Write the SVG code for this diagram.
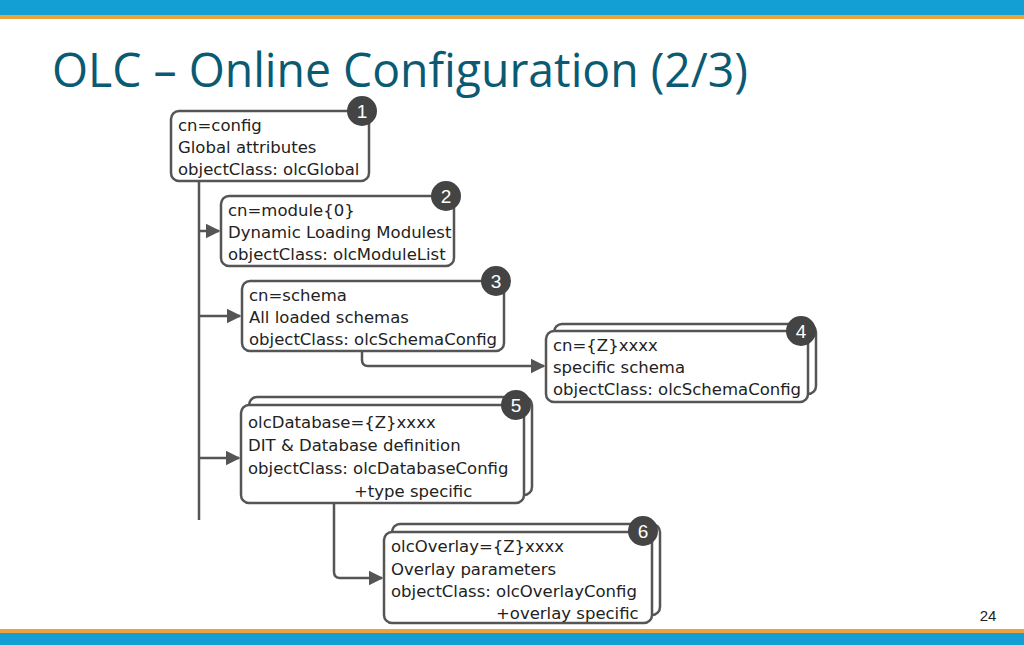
<svg xmlns="http://www.w3.org/2000/svg" width="1024" height="645" viewBox="0 0 1024 645">
<defs>
<style>
.box{fill:#fff;stroke:#555;stroke-width:2.5}
.t{font-family:"DejaVu Sans","Liberation Sans",sans-serif;font-size:16.5px;fill:#222}
.badge{fill:#444}
.bt{font-family:"Liberation Sans",sans-serif;font-size:19px;fill:#fff;text-anchor:middle}
.c{fill:none;stroke:#555;stroke-width:2.5}
</style>
<marker id="ah" viewBox="0 0 10 10" refX="9" refY="5" markerWidth="6" markerHeight="6" orient="auto"><path d="M0,0 L10,5 L0,10 z" fill="#555"/></marker>
</defs>
<rect width="1024" height="645" fill="#fff"/>
<rect x="0" y="0" width="1024" height="15" fill="#139fd3"/>
<rect x="0" y="15" width="1024" height="4" fill="#e8a33a"/>
<rect x="0" y="629" width="1024" height="4" fill="#e8a33a"/>
<rect x="0" y="633" width="1024" height="12" fill="#139fd3"/>
<text x="52" y="87" font-family="Open Sans, sans-serif" font-size="48" fill="#0b5a73" textLength="696" lengthAdjust="spacingAndGlyphs">OLC – Online Configuration (2/3)</text>
<text x="988" y="621" font-family="Liberation Sans, sans-serif" font-size="15" fill="#222" text-anchor="middle">24</text>
<g id="connectors">
<path class="c" d="M199,181 V520"/>
<path class="c" d="M199,231 H219" marker-end="url(#ah)"/>
<path class="c" d="M199,316 H240" marker-end="url(#ah)"/>
<path class="c" d="M199,458 H239" marker-end="url(#ah)"/>
<path class="c" d="M362,351 V360 Q362,366 368,366 H544" marker-end="url(#ah)"/>
<path class="c" d="M334,503 V572 Q334,578 340,578 H382" marker-end="url(#ah)"/>
</g>
<g id="n1">
<rect class="box" x="171" y="111" width="198" height="70" rx="8"/>
<text class="t" x="178" y="131">cn=config</text>
<text class="t" x="178" y="153">Global attributes</text>
<text class="t" x="178" y="175">objectClass: olcGlobal</text>
<circle class="badge" cx="362" cy="111" r="15"/><text class="bt" x="362" y="118">1</text>
</g>
<g id="n2">
<rect class="box" x="221" y="196" width="233" height="70" rx="8"/>
<text class="t" x="228" y="216">cn=module{0}</text>
<text class="t" x="228" y="238">Dynamic Loading Modulest</text>
<text class="t" x="228" y="260">objectClass: olcModuleList</text>
<circle class="badge" cx="446" cy="196" r="15"/><text class="bt" x="446" y="203">2</text>
</g>
<g id="n3">
<rect class="box" x="242" y="281" width="262" height="70" rx="8"/>
<text class="t" x="249" y="301">cn=schema</text>
<text class="t" x="249" y="323">All loaded schemas</text>
<text class="t" x="249" y="345">objectClass: olcSchemaConfig</text>
<circle class="badge" cx="496" cy="281" r="15"/><text class="bt" x="496" y="288">3</text>
</g>
<g id="n4">
<rect class="box" x="554" y="324" width="262" height="70" rx="8"/>
<rect class="box" x="546" y="331" width="262" height="71" rx="8"/>
<text class="t" x="553" y="351">cn={Z}xxxx</text>
<text class="t" x="553" y="373">specific schema</text>
<text class="t" x="553" y="395">objectClass: olcSchemaConfig</text>
<circle class="badge" cx="801" cy="331" r="15"/><text class="bt" x="801" y="338">4</text>
</g>
<g id="n5">
<rect class="box" x="249" y="397" width="283" height="98" rx="8"/>
<rect class="box" x="241" y="405" width="283" height="98" rx="8"/>
<text class="t" x="248" y="428">olcDatabase={Z}xxxx</text>
<text class="t" x="248" y="451">DIT &amp; Database definition</text>
<text class="t" x="248" y="474">objectClass: olcDatabaseConfig</text>
<text class="t" x="354" y="497">+type specific</text>
<circle class="badge" cx="516" cy="405" r="15"/><text class="bt" x="516" y="412">5</text>
</g>
<g id="n6">
<rect class="box" x="392" y="524" width="268" height="91" rx="8"/>
<rect class="box" x="384" y="532" width="268" height="91" rx="8"/>
<text class="t" x="391" y="552">olcOverlay={Z}xxxx</text>
<text class="t" x="391" y="575">Overlay parameters</text>
<text class="t" x="391" y="597">objectClass: olcOverlayConfig</text>
<text class="t" x="496" y="619">+overlay specific</text>
<circle class="badge" cx="643" cy="531" r="15"/><text class="bt" x="643" y="538">6</text>
</g>
</svg>
